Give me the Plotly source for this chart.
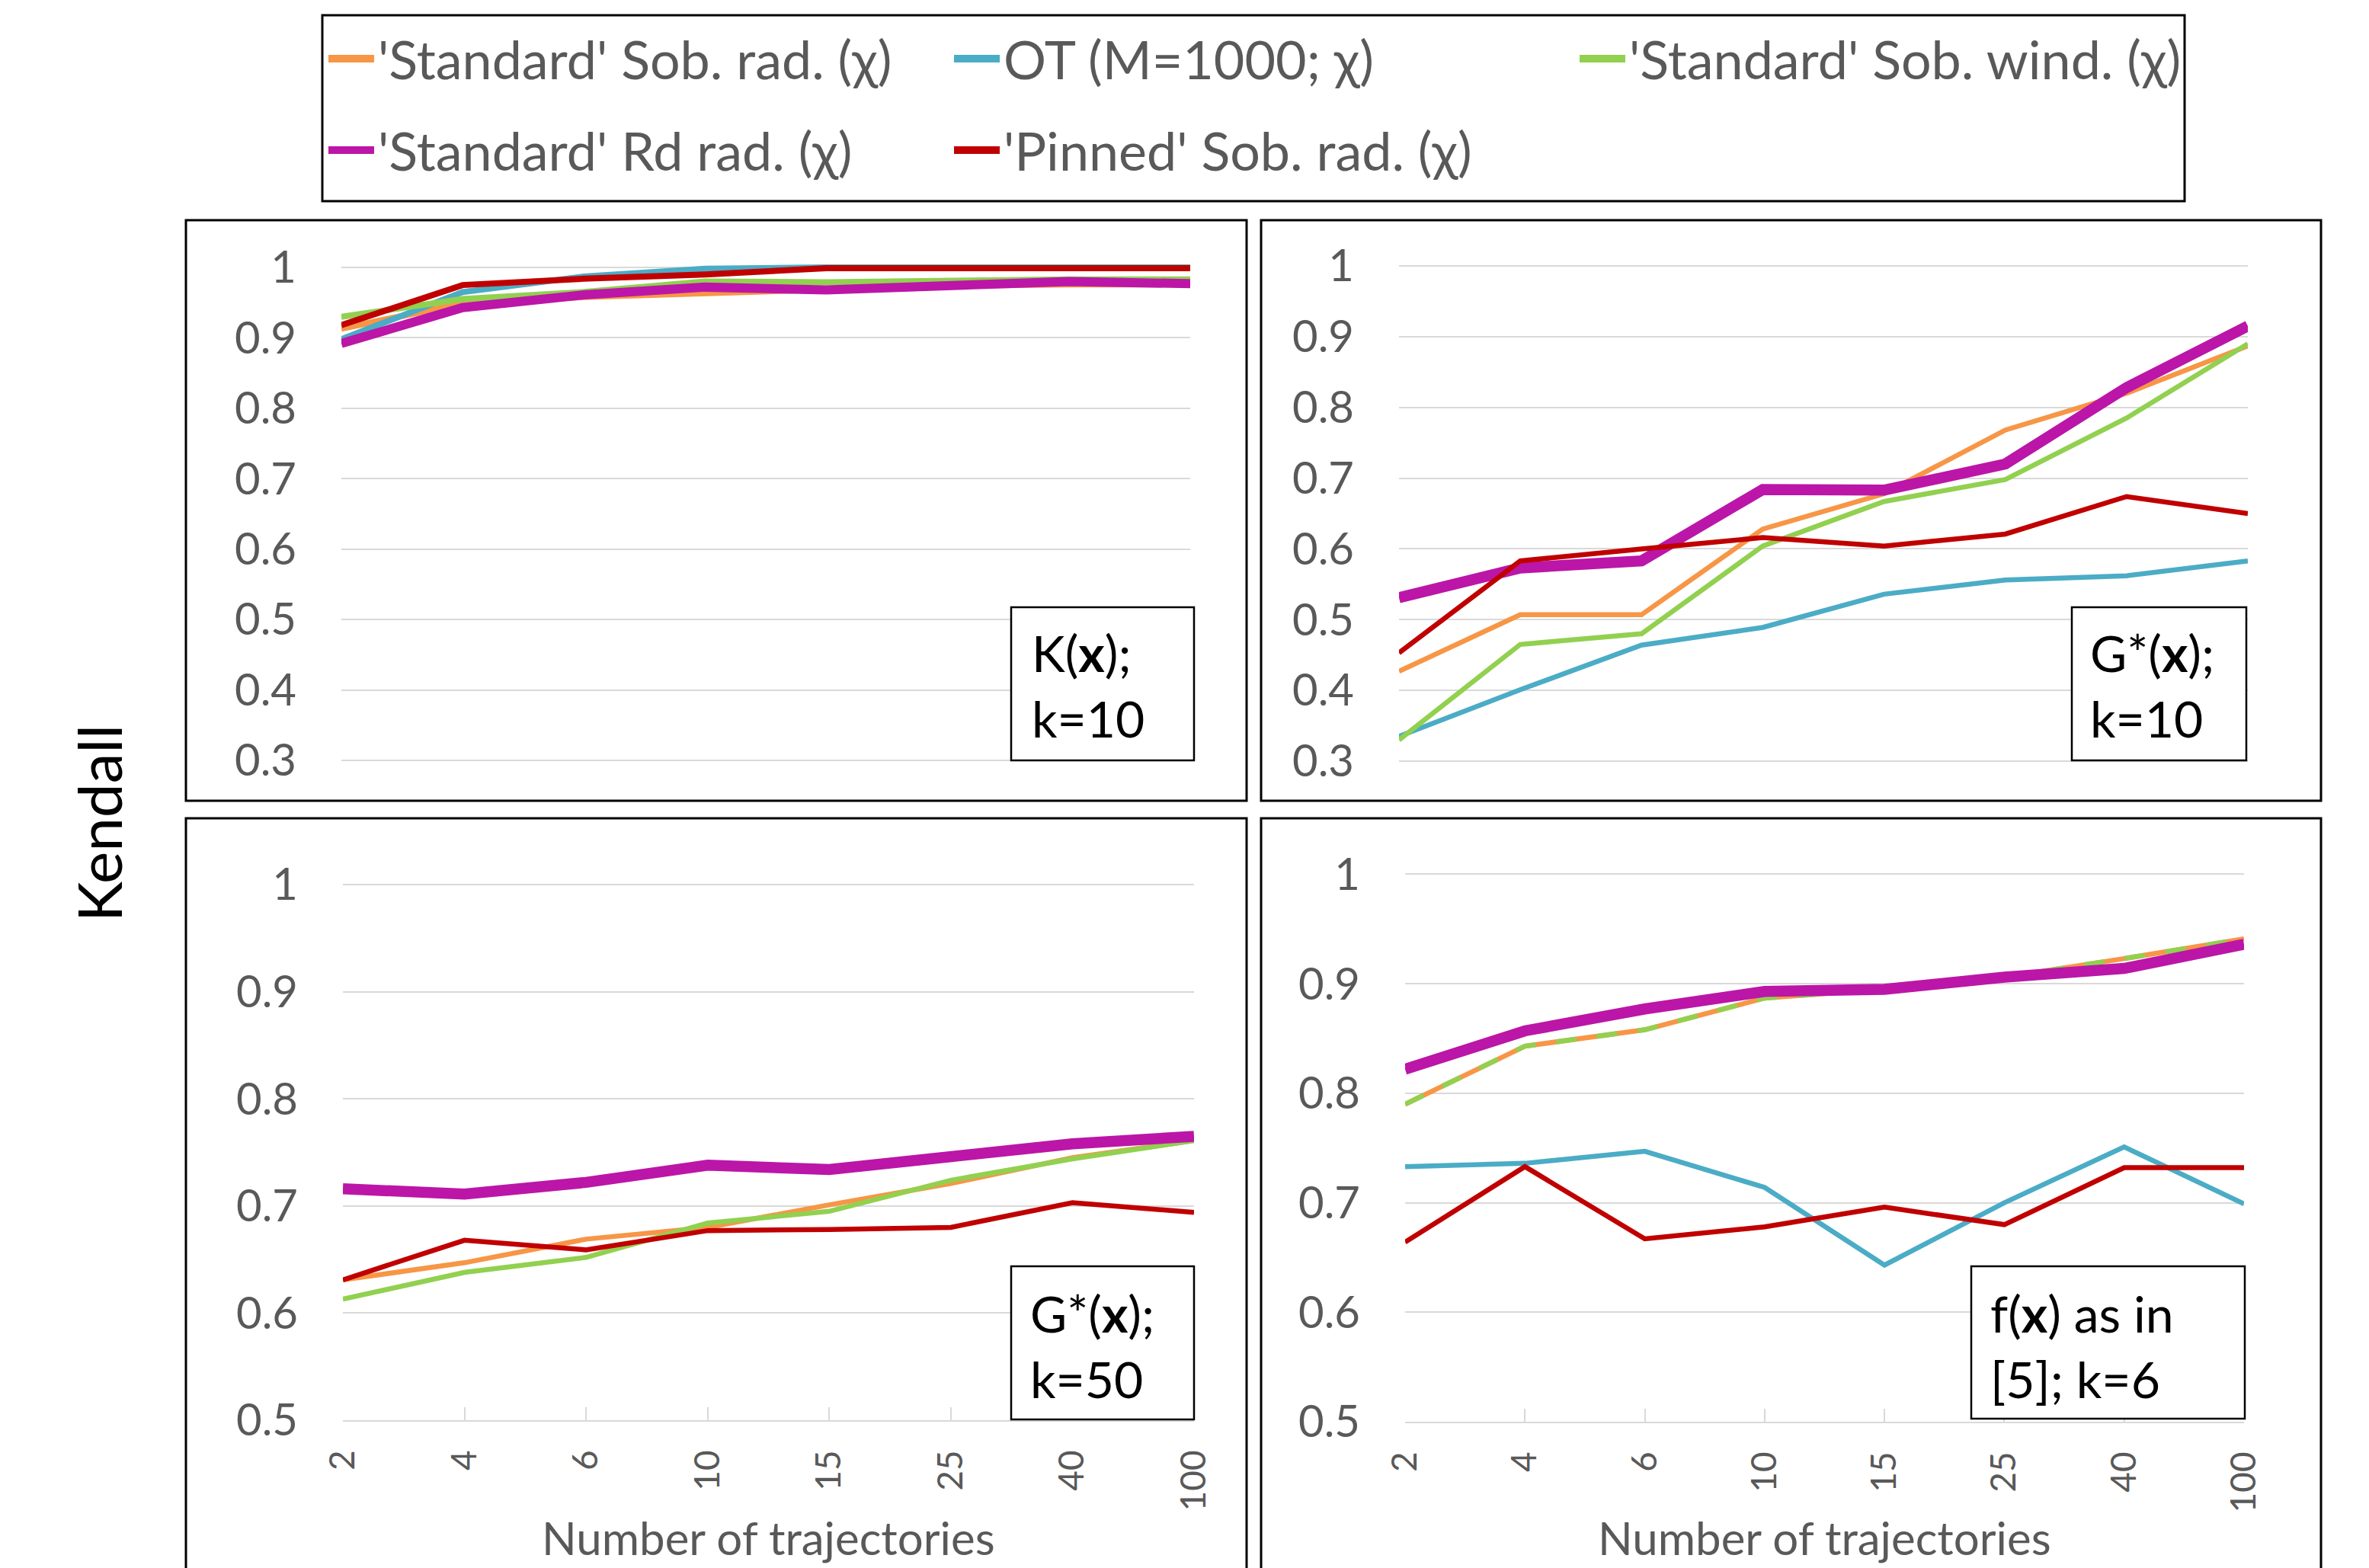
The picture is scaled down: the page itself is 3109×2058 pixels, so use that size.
import plotly.graph_objects as go

W, H = 3109, 2058
OFF = 8                      # default page margin of the html body
FW, FH = W - OFF, H - OFF    # figure size so that it fills the window exactly

# ---------------- data ----------------
categories = ["2", "4", "6", "10", "15", "25", "40", "100"]

series_names = [
    "'Standard' Sob. rad. (χ)",
    "OT (M=1000; χ)",
    "'Standard' Sob. wind. (χ)",
    "'Standard' Rd rad. (χ)",
    "'Pinned' Sob. rad. (χ)",
]

# K(x); k=10
k10_sob_rad = [0.913, 0.949, 0.958, 0.964, 0.969, 0.974, 0.976, 0.976]
k10_ot = [0.898, 0.965, 0.987, 0.998, 1.000, 1.000, 1.000, 1.000]
k10_sob_wind = [0.930, 0.955, 0.965, 0.980, 0.979, 0.982, 0.983, 0.983]
k10_rd_rad = [0.892, 0.943, 0.961, 0.972, 0.968, 0.975, 0.980, 0.977]
k10_pinned = [0.918, 0.975, 0.984, 0.990, 0.999, 0.999, 0.999, 0.999]

# G*(x); k=10
g10_sob_rad = [0.427, 0.507, 0.507, 0.628, 0.678, 0.768, 0.820, 0.887]
g10_ot = [0.335, 0.401, 0.464, 0.489, 0.536, 0.556, 0.562, 0.583]
g10_sob_wind = [0.330, 0.465, 0.480, 0.604, 0.667, 0.698, 0.785, 0.890]
g10_rd_rad = [0.531, 0.573, 0.583, 0.684, 0.683, 0.720, 0.828, 0.915]
g10_pinned = [0.453, 0.583, 0.600, 0.616, 0.604, 0.621, 0.674, 0.650]

# G*(x); k=50  (no OT series)
g50_sob_rad = [0.631, 0.647, 0.669, 0.680, 0.701, 0.721, 0.745, 0.761]
g50_ot = [None, None, None, None, None, None, None, None]
g50_sob_wind = [0.613, 0.638, 0.652, 0.684, 0.695, 0.724, 0.744, 0.761]
g50_rd_rad = [0.716, 0.711, 0.722, 0.738, 0.734, 0.747, 0.758, 0.765]
g50_pinned = [0.631, 0.668, 0.659, 0.677, 0.678, 0.680, 0.703, 0.694]

# f(x) as in [5]; k=6
f6_sob_rad = [0.790, 0.843, 0.858, 0.887, 0.895, 0.906, 0.923, 0.941]
f6_ot = [0.733, 0.736, 0.747, 0.714, 0.643, 0.700, 0.751, 0.699]
f6_sob_wind = [0.790, 0.843, 0.858, 0.887, 0.895, 0.906, 0.923, 0.941]
f6_rd_rad = [0.822, 0.857, 0.877, 0.893, 0.895, 0.906, 0.914, 0.936]
f6_pinned = [0.664, 0.733, 0.667, 0.678, 0.696, 0.680, 0.732, 0.732]

panel_labels = ["K(<b>x</b>);<br>k=10", "G*(<b>x</b>);<br>k=10",
                "G*(<b>x</b>);<br>k=50", "f(<b>x</b>) as in<br>[5]; k=6"]
y_title = "Kendall"
x_title = "Number of trajectories"

# ---------------- styles / layout geometry ----------------
colors = ["#F79646", "#4BACC6", "#92D050", "#BB16A7", "#C00000"]
FONT = "Lato"
GRAY = "#595959"
GRID = "#D9D9D9"

panel_data = [
    [k10_sob_rad, k10_ot, k10_sob_wind, k10_rd_rad, k10_pinned],
    [g10_sob_rad, g10_ot, g10_sob_wind, g10_rd_rad, g10_pinned],
    [g50_sob_rad, g50_ot, g50_sob_wind, g50_rd_rad, g50_pinned],
    [f6_sob_rad, f6_ot, f6_sob_wind, f6_rd_rad, f6_pinned],
]

# plot-area pixel geometry in window pixels
panels = [
    dict(xl=448, xr=1562, ytop=351, ybot=998, vmin=0.3, vmax=1.0, padt=0.012, padb=0.012, bottom=False,
         box=(244, 289, 1636, 1051), lab_box=(1327, 797, 1567, 998), lab_x=1352, lab_y=900,
         thin=8, thick=12),
    dict(xl=1836, xr=2950, ytop=349, ybot=999, vmin=0.3, vmax=1.0, padt=0.012, padb=0.012, bottom=False,
         box=(1655, 289, 3046, 1051), lab_box=(2719, 797, 2948, 998), lab_x=2741, lab_y=900,
         thin=6.5, thick=14.5),
    dict(xl=450, xr=1567, ytop=1161, ybot=1864, vmin=0.5, vmax=1.0, padt=0.012, padb=0.0, bottom=True,
         box=(244, 1074, 1636, 2090), lab_box=(1327, 1662, 1567, 1863), lab_x=1350, lab_y=1766,
         thin=6.5, thick=14.5),
    dict(xl=1844, xr=2945, ytop=1147.5, ybot=1866, vmin=0.5, vmax=1.0, padt=0.012, padb=0.0, bottom=True,
         box=(1655, 1074, 3046, 2090), lab_box=(2587, 1662, 2946, 1862), lab_x=2610, lab_y=1766,
         thin=6.5, thick=14.5),
]


def fx(x):
    return (x - OFF) / FW


def fy(y):
    return 1 - (y - OFF) / FH


fig = go.Figure()
layout = dict(
    width=FW, height=FH, margin=dict(l=0, r=0, t=0, b=0, autoexpand=False),
    paper_bgcolor="white", plot_bgcolor="white",
    font=dict(family=FONT, color=GRAY),
    shapes=[], annotations=[],
)

xidx = list(range(len(categories)))

for p_i, (p, data) in enumerate(zip(panels, panel_data)):
    n = "" if p_i == 0 else str(p_i + 1)
    ppu = (p["ybot"] - p["ytop"]) / (p["vmax"] - p["vmin"])
    top_px = p["ytop"] - p["padt"] * ppu
    bot_px = p["ybot"] + p["padb"] * ppu
    yvals = []
    v = p["vmin"]
    while v <= p["vmax"] + 1e-9:
        yvals.append(round(v, 1))
        v += 0.1
    ytext = ["1" if abs(t - 1) < 1e-9 else f"{t:.1f}" for t in yvals]

    xa = dict(domain=[fx(p["xl"]), fx(p["xr"])], range=[0, len(categories) - 1],
              anchor="y" + n, showgrid=False, zeroline=False, fixedrange=True, automargin=False)
    if p["bottom"]:
        xa.update(showline=True, linecolor=GRID, linewidth=2, ticks="inside", ticklen=17,
                  tickwidth=2, tickcolor=GRID, tickmode="array", tickvals=xidx,
                  ticktext=categories, tickangle=-90, ticklabelstandoff=19,
                  tickfont=dict(family=FONT, size=46, color=GRAY))
    else:
        xa.update(showline=False, showticklabels=False, ticks="")
    ya = dict(domain=[fy(bot_px), fy(top_px)], range=[p["vmin"] - p["padb"], p["vmax"] + p["padt"]],
              anchor="x" + n, showgrid=True, gridcolor=GRID, gridwidth=2, zeroline=False,
              showline=False, ticks="", tickmode="array", tickvals=yvals, ticktext=ytext,
              ticklabelstandoff=58, tickfont=dict(family=FONT, size=58, color=GRAY),
              fixedrange=True, automargin=False)
    layout["xaxis" + n] = xa
    layout["yaxis" + n] = ya

    for s_i, (name, vals, col) in enumerate(zip(series_names, data, colors)):
        if all(v is None for v in vals):
            continue
        width = p["thick"] if s_i == 3 else p["thin"]
        dash = "solid"
        if p_i == 3 and s_i == 2:
            dash = "27px,27px"
        fig.add_trace(go.Scatter(
            x=xidx, y=vals, mode="lines", name=name,
            line=dict(color=col, width=width, dash=dash),
            xaxis="x" + n, yaxis="y" + n, showlegend=False,
            hoverinfo="skip",
        ))

    # panel border
    x0, y0, x1, y1 = p["box"]
    layout["shapes"].append(dict(type="rect", xref="paper", yref="paper",
                                 x0=fx(x0), x1=fx(x1), y0=fy(y1), y1=fy(y0),
                                 line=dict(color="black", width=3), layer="above"))
    # label box
    x0, y0, x1, y1 = p["lab_box"]
    layout["shapes"].append(dict(type="rect", xref="paper", yref="paper",
                                 x0=fx(x0), x1=fx(x1), y0=fy(y1), y1=fy(y0),
                                 fillcolor="white",
                                 line=dict(color="black", width=2.5), layer="above"))
    layout["annotations"].append(dict(text=panel_labels[p_i], xref="paper", yref="paper",
                                      x=fx(p["lab_x"]), y=fy(p["lab_y"]), xanchor="left",
                                      yanchor="middle", align="left", showarrow=False,
                                      font=dict(family=FONT, size=66, color="black")))
    if p["bottom"]:
        layout["annotations"].append(dict(text=x_title, xref="paper", yref="paper",
                                          x=fx((p["xl"] + p["xr"]) / 2), y=fy(2018),
                                          xanchor="center", yanchor="middle", showarrow=False,
                                          font=dict(family=FONT, size=60, color=GRAY)))

# legend entries (one key per series, drawn in the legend only)
for s_i, (name, col) in enumerate(zip(series_names, colors)):
    fig.add_trace(go.Scatter(
        x=[None], y=[None], mode="lines", name=name,
        line=dict(color=col, width=10), showlegend=True,
        legend="legend" if s_i < 3 else "legend2", hoverinfo="skip",
    ))

# y title
layout["annotations"].append(dict(text=y_title, xref="paper", yref="paper", x=fx(129), y=fy(1081),
                                  xanchor="center", yanchor="middle", textangle=-90,
                                  showarrow=False, font=dict(family=FONT, size=80, color="black")))

# legend frame
layout["shapes"].append(dict(type="rect", xref="paper", yref="paper",
                             x0=fx(423), x1=fx(2867), y0=fy(264), y1=fy(20),
                             line=dict(color="black", width=3), layer="above"))

leg_common = dict(orientation="h", xanchor="left", yanchor="middle",
                  font=dict(family=FONT, size=70, color=GRAY),
                  entrywidth=746, entrywidthmode="pixels", itemwidth=60,
                  bgcolor="rgba(0,0,0,0)", borderwidth=0, itemclick=False, itemdoubleclick=False)
layout["legend"] = dict(leg_common, x=fx(426), y=fy(77))
layout["legend2"] = dict(leg_common, x=fx(426), y=fy(197))
layout["showlegend"] = True

fig.update_layout(**layout)
fig.write_html("out.html")
